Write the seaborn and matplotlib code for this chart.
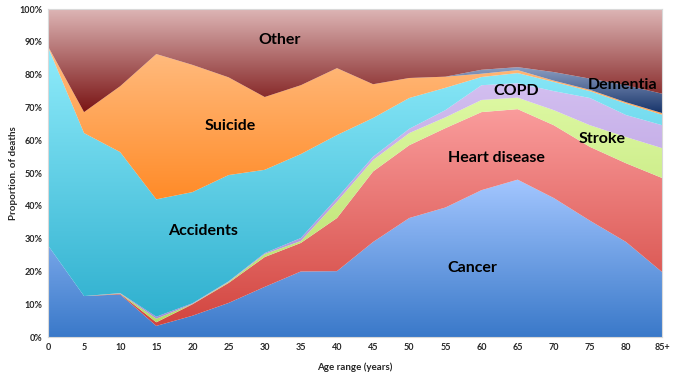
import numpy as np
import matplotlib
matplotlib.use('Agg')
import matplotlib.pyplot as plt
from matplotlib.colors import LinearSegmentedColormap
import seaborn as sns

sns.set_theme(style='white')
plt.rcParams['font.family'] = ['Lato', 'DejaVu Sans']

# age bands (x) and proportion of deaths per cause, in %
ages = [0, 5, 10, 15, 20, 25, 30, 35, 40, 45, 50, 55, 60, 65, 70, 75, 80, 85]
age_labels = ['0', '5', '10', '15', '20', '25', '30', '35', '40', '45',
              '50', '55', '60', '65', '70', '75', '80', '85+']

cancer    = [28, 12.5, 13, 3.4, 6.5, 10.4, 15.3, 20, 20.1, 29, 36.3, 39.5, 44.8, 48, 42.4, 35.5, 29, 19.8]
heart     = [0, 0, 0.2, 1.1, 3.5, 6.1, 9.1, 8.7, 16.2, 21.5, 22.2, 24.2, 23.8, 21.5, 22.2, 22.5, 24, 28.7]
stroke    = [0, 0, 0.1, 1.1, 0.1, 0.3, 0.9, 0.6, 5, 3.5, 3.7, 3.3, 3.7, 3.5, 4.6, 6.6, 8, 9.1]
copd      = [0, 0, 0.1, 0.6, 0.2, 0.2, 0.3, 0.9, 1.1, 1, 1.3, 2.2, 4.5, 4.4, 5.8, 8.3, 6.7, 7]
accidents = [60.5, 49.7, 43, 35.8, 33.9, 32.4, 25.4, 25.6, 19.2, 11.8, 9.4, 6.8, 2.5, 3.1, 2.8, 2.1, 3.5, 3.2]
suicide   = [0.2, 6.4, 20.1, 44.3, 38.8, 29.8, 22.2, 21, 20.4, 10.3, 6.1, 3.4, 1, 0.9, 0.4, 0.4, 0.4, 0.5]
dementia  = [0, 0, 0, 0, 0, 0, 0, 0, 0, 0, 0, 0, 1.2, 0.9, 2.6, 3.4, 5.2, 5.9]
other     = [11.3, 31.4, 23.5, 13.7, 17, 20.8, 26.8, 23.2, 18, 22.9, 21, 20.6, 18.5, 17.7, 19.2, 21.2, 23.2, 25.8]

series = [cancer, heart, stroke, copd, accidents, suicide, dementia, other]
# (bottom colour, top colour) of each gradient fill
grads = [('#3a79c9', '#a3c6ff'),
         ('#d2453f', '#fa9c9c'),
         ('#b5dd68', '#ddf8a2'),
         ('#a68ad6', '#d3bff0'),
         ('#2fb0cf', '#90ecfb'),
         ('#ff8b28', '#ffbd82'),
         ('#17346a', '#8c9ec2'),
         ('#7a1414', '#ddb5b5')]

labels = [('Cancer', 58.7, 21), ('Heart disease', 62, 54.6), ('Stroke', 76.7, 60.4),
          ('COPD', 64.8, 75), ('Accidents', 21.5, 32.3), ('Suicide', 25.2, 64.3),
          ('Dementia', 79.5, 76.8), ('Other', 32, 90.5)]

fig = plt.figure(figsize=(6.75, 3.8), dpi=100)
ax = fig.add_axes([0.071, 0.113, 0.91, 0.863])

polys = ax.stackplot(ages, *series, linewidth=0)

x = np.array(ages, dtype=float)
vals = np.array(series, dtype=float)
tops = np.cumsum(vals, axis=0)
grad = np.linspace(0, 1, 256).reshape(-1, 1)
for i, poly in enumerate(polys):
    v = vals[i]
    lower = tops[i] - v
    upper = tops[i]
    mask = v > 0
    ymin, ymax = lower[mask].min(), upper[mask].max()
    cmap = LinearSegmentedColormap.from_list('g%d' % i, list(grads[i]))
    im = ax.imshow(grad, cmap=cmap, aspect='auto', origin='lower',
                   extent=[x.min(), x.max(), ymin, ymax], zorder=1 + i * 0.01,
                   interpolation='bilinear')
    im.set_clip_path(poly.get_paths()[0], transform=ax.transData)
    poly.set_facecolor('none')

for name, lx, ly in labels:
    ax.text(lx, ly, name, ha='center', va='center', fontsize=11.5,
            fontweight='bold', color='black', zorder=5)

ax.set_xlim(0, 85)
ax.set_ylim(0, 100)
ax.set_xticks(ages)
ax.set_xticklabels(age_labels, fontsize=6.5, fontweight='bold')
ax.set_yticks(range(0, 101, 10))
ax.set_yticklabels(['%d%%' % t for t in range(0, 101, 10)], fontsize=6.5, fontweight='bold')
ax.tick_params(length=0, pad=4)
ax.set_xlabel('Age range (years)', fontsize=7, fontweight='bold', labelpad=8)
ax.set_ylabel('Proportion. of deaths', fontsize=7, fontweight='bold', labelpad=1)
for s in ax.spines.values():
    s.set_color('#d9d9d9')
    s.set_linewidth(0.8)

fig.savefig('out.png', dpi=100)
